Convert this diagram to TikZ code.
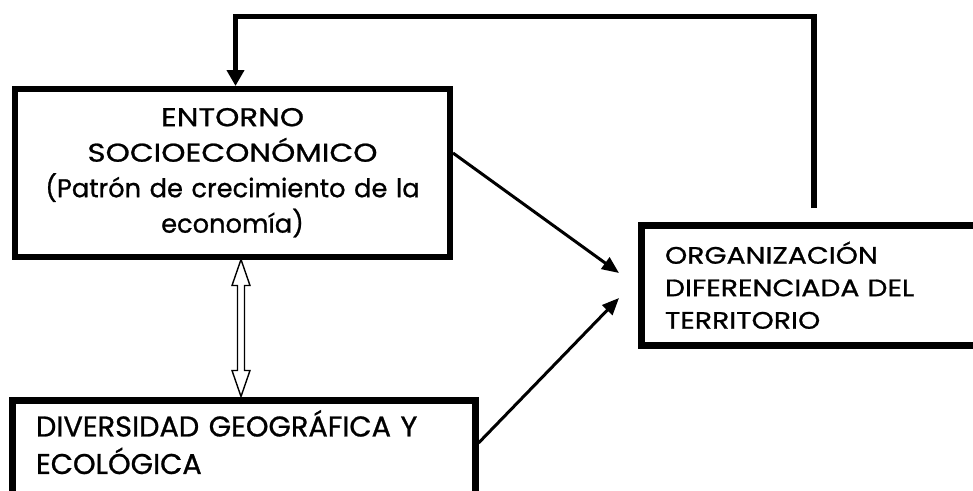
\documentclass[tikz,border=0pt]{standalone}
\usepackage{fontspec}
\setmainfont{Poppins}[FakeBold=0.9]
\newfontfamily\entcapsfont{Poppins}[FakeStretch=1.2,FakeBold=0.9]
\newfontfamily\orgcapsfont{Poppins}[FakeStretch=1.19,FakeBold=0.9]
\newfontfamily\divcapsfont{Poppins}[FakeStretch=1.01,FakeBold=0.9]
\usetikzlibrary{arrows.meta,calc}
\begin{document}
\begin{tikzpicture}[x=1pt,y=-1pt,
  box/.style={draw=black,fill=white,rectangle,inner ysep=0pt},
  arr/.style={draw=black,line width=3pt,-{Triangle[length=17pt,width=14pt]}},
  fb/.style={draw=black,line width=5.5pt,-{Triangle[length=16pt,width=17pt]}},
  dbl/.style={draw=black,line width=1.4pt,fill=white,line join=miter}]
\clip (0,0) rectangle (973,490);
\fill[white] (0,0) rectangle (973,490);
\node[box,line width=6pt,minimum width=435pt,minimum height=167.5pt,
      text width=420pt,inner xsep=7.5pt,align=center,
      font=\fontsize{25.7}{35.5}\selectfont] (ent) at (232.5,172.75)
  {{\entcapsfont ENTORNO}\\{\entcapsfont SOCIOECONÓMICO}\\(Patrón de crecimiento de la\\economía)};
\node[box,line width=7pt,minimum width=370pt,minimum height=119.5pt,
      text width=322pt,inner xsep=24pt,align=left,
      font=\orgcapsfont\fontsize{23.8}{32.5}\selectfont] (org) at (826,285.25)
  {ORGANIZACIÓN\\DIFERENCIADA DEL\\TERRITORIO};
\node[box,line width=7pt,minimum width=462.5pt,minimum height=96pt,
      text width=415.5pt,inner xsep=23.5pt,align=left,
      font=\divcapsfont\fontsize{28.5}{37.5}\selectfont] (div) at (243.75,448)
  {DIVERSIDAD GEOGRÁFICA Y\\ECOLÓGICA\rule[-12pt]{0pt}{1pt}};
\coordinate (t1) at (619,273);
\coordinate (t2) at (619,298);
\draw[arr] ([yshift=19.75pt]ent.east) -- (t1);
\draw[arr] ([yshift=5pt]div.east) -- (t2);
\coordinate (fbs) at (814,208);
\coordinate (fbtop) at (814,16.5);
\coordinate (fbcorner) at (235.5,16.5);
\draw[fb] (fbs) -- (fbtop) -- (fbcorner) -- (ent.north -| fbcorner);
\coordinate (dtop) at ([xshift=8.5pt]ent.south);
\coordinate (dbot) at (dtop |- div.north);
\draw[dbl] (dtop) -- ++(9,26) -- ++(-5.5,0) -- ($(dbot)+(3.5,-26)$) -- ++(5.5,0)
  -- (dbot) -- ++(-9,-26) -- ++(5.5,0) -- ($(dtop)+(-3.5,26)$) -- ++(-5.5,0) -- cycle;
\end{tikzpicture}
\end{document}
